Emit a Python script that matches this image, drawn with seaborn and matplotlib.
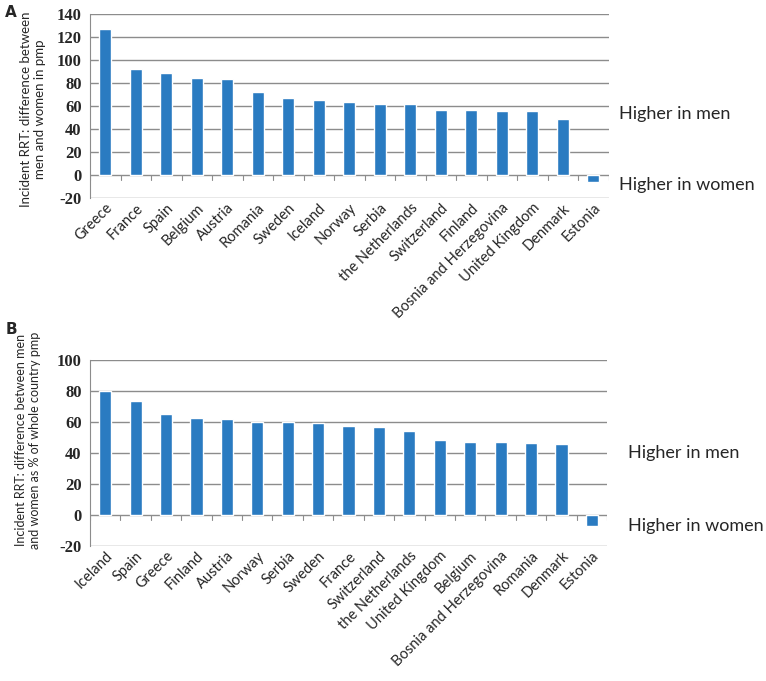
import matplotlib
matplotlib.use('Agg')
import matplotlib.pyplot as plt
import seaborn as sns
import pandas as pd

# panel A: difference men - women in pmp
countries_a = ['Greece', 'France', 'Spain', 'Belgium', 'Austria', 'Romania', 'Sweden',
               'Iceland', 'Norway', 'Serbia', 'the Netherlands', 'Switzerland', 'Finland',
               'Bosnia and Herzegovina', 'United Kingdom', 'Denmark', 'Estonia']
values_a = [127, 92.5, 88.4, 84.4, 83.5, 72.6, 67.4, 65, 63.4, 61.6, 61.8, 56.8, 56.8,
            55.9, 55.9, 48.4, -6]

# panel B: difference as % of whole country pmp
countries_b = ['Iceland', 'Spain', 'Greece', 'Finland', 'Austria', 'Norway', 'Serbia',
               'Sweden', 'France', 'Switzerland', 'the Netherlands', 'United Kingdom',
               'Belgium', 'Bosnia and Herzegovina', 'Romania', 'Denmark', 'Estonia']
values_b = [80.2, 73.5, 65.2, 62.4, 61.7, 60.2, 60.2, 59.1, 57.4, 56.6, 54.2, 48.6,
            47.3, 47.3, 46.6, 46, -7]

ylabel_a = 'Incident RRT: difference between\nmen and women in pmp'
ylabel_b = 'Incident RRT: difference between men\nand women as % of whole country pmp'

bar_color = '#2a7bc1'
grid_color = '#8c8c8c'

sns.set_style('white')
plt.rcParams['font.family'] = ['Lato', 'DejaVu Sans']

fig = plt.figure(figsize=(7.66, 6.81), dpi=100)
ax_a = fig.add_axes([0.1175, 0.709, 0.677, 0.2705])
ax_b = fig.add_axes([0.1175, 0.1982, 0.675, 0.273])


def draw_panel(ax, countries, values, ylim, yticks, ylabel, label_xy, label_size):
    df = pd.DataFrame({'country': countries, 'value': values})
    sns.barplot(data=df, x='country', y='value', color=bar_color, width=0.4,
                saturation=1, ax=ax, zorder=3)
    ax.set_ylim(*ylim)
    ax.set_yticks(yticks)
    ax.set_yticklabels([str(t) for t in yticks], family='Liberation Serif',
                       fontsize=12, fontweight='bold')
    n = len(countries)
    ax.set_xlim(-0.5, n - 0.5)
    for t in yticks:
        ax.axhline(t, color=grid_color, lw=1, zorder=1)
    # category ticks along the zero line
    for i in range(n + 1):
        ax.plot([i - 0.5, i - 0.5], [0, -ylim[1] * 0.02 - 1.5], color=grid_color,
                lw=0.8, zorder=2)
    for s in ['top', 'right', 'bottom']:
        ax.spines[s].set_visible(False)
    ax.spines['left'].set_color(grid_color)
    ax.tick_params(axis='x', length=0, pad=2)
    ax.tick_params(axis='y', length=0, pad=6)
    ax.set_xticks(range(n))
    ax.set_xticklabels(countries, rotation=45, ha='right', rotation_mode='anchor',
                       fontsize=10.5)
    ax.set_xlabel('')
    ax.set_ylabel(ylabel, fontsize=label_size, linespacing=1.2)
    ax.yaxis.set_label_coords(*label_xy)


draw_panel(ax_a, countries_a, values_a, (-20, 140), list(range(-20, 141, 20)),
           ylabel_a, (-0.085, 0.48), 9.5)
draw_panel(ax_b, countries_b, values_b, (-20, 100), list(range(-20, 101, 20)),
           ylabel_b, (-0.095, 0.57), 9)

fig.text(0.007, 0.993, 'A', fontsize=11, fontweight='bold', family='DejaVu Sans', va='top')
fig.text(0.007, 0.527, 'B', fontsize=11, fontweight='bold', family='DejaVu Sans', va='top')

fig.text(0.808, 0.832, 'Higher in men', fontsize=13, va='center')
fig.text(0.808, 0.728, 'Higher in women', fontsize=13, va='center')
fig.text(0.82, 0.335, 'Higher in men', fontsize=13, va='center')
fig.text(0.82, 0.228, 'Higher in women', fontsize=13, va='center')

fig.savefig('out.png', dpi=100)
